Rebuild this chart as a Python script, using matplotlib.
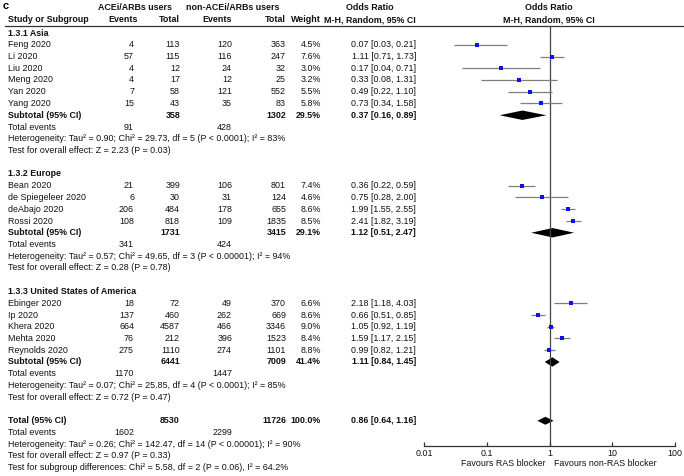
import matplotlib
matplotlib.use("Agg")
import matplotlib.pyplot as plt

plt.rcParams["font.family"] = ["Liberation Sans", "DejaVu Sans"]

# ---- data ----
groups = ["1.3.1 Asia", "1.3.2 Europe", "1.3.3 United States of America"]
group_size = [6, 4, 5]

studies = ["Feng 2020", "Li 2020", "Liu 2020", "Meng 2020", "Yan 2020", "Yang 2020",
           "Bean 2020", "de Spiegeleer 2020", "deAbajo 2020", "Rossi 2020",
           "Ebinger 2020", "Ip 2020", "Khera 2020", "Mehta 2020", "Reynolds 2020"]
ev_a = [4, 57, 4, 4, 7, 15, 21, 6, 206, 108, 18, 137, 664, 76, 275]
tot_a = [113, 115, 12, 17, 58, 43, 399, 30, 484, 818, 72, 460, 4587, 212, 1110]
ev_b = [120, 116, 24, 12, 121, 35, 106, 31, 178, 109, 49, 262, 466, 396, 274]
tot_b = [363, 247, 32, 25, 552, 83, 801, 124, 655, 1835, 370, 669, 3346, 1523, 1101]
weight = [4.5, 7.6, 3.0, 3.2, 5.5, 5.8, 7.4, 4.6, 8.6, 8.5, 6.6, 8.6, 9.0, 8.4, 8.8]
odds = [0.07, 1.11, 0.17, 0.33, 0.49, 0.73, 0.36, 0.75, 1.99, 2.41, 2.18, 0.66, 1.05, 1.59, 0.99]
ci_lo = [0.03, 0.71, 0.04, 0.08, 0.22, 0.34, 0.22, 0.28, 1.55, 1.82, 1.18, 0.51, 0.92, 1.17, 0.82]
ci_hi = [0.21, 1.73, 0.71, 1.31, 1.10, 1.58, 0.59, 2.00, 2.55, 3.19, 4.03, 0.85, 1.19, 2.15, 1.21]

sub_tot_a = [358, 1731, 6441]
sub_tot_b = [1302, 3415, 7009]
sub_ev_a = [91, 341, 1170]
sub_ev_b = [428, 424, 1447]
sub_weight = [29.5, 29.1, 41.4]
sub_or = [0.37, 1.12, 1.11]
sub_lo = [0.16, 0.51, 0.84]
sub_hi = [0.89, 2.47, 1.45]
sub_het = ["Heterogeneity: Tau\u00b2 = 0.90; Chi\u00b2 = 29.73, df = 5 (P < 0.0001); I\u00b2 = 83%",
           "Heterogeneity: Tau\u00b2 = 0.57; Chi\u00b2 = 49.65, df = 3 (P < 0.00001); I\u00b2 = 94%",
           "Heterogeneity: Tau\u00b2 = 0.07; Chi\u00b2 = 25.85, df = 4 (P < 0.0001); I\u00b2 = 85%"]
sub_test = ["Test for overall effect: Z = 2.23 (P = 0.03)",
            "Test for overall effect: Z = 0.28 (P = 0.78)",
            "Test for overall effect: Z = 0.72 (P = 0.47)"]

all_tot_a, all_tot_b = 8530, 11726
all_ev_a, all_ev_b = 1602, 2299
all_or, all_lo, all_hi = 0.86, 0.64, 1.16
all_notes = ["Heterogeneity: Tau\u00b2 = 0.26; Chi\u00b2 = 142.47, df = 14 (P < 0.00001); I\u00b2 = 90%",
             "Test for overall effect: Z = 0.97 (P = 0.33)",
             "Test for subgroup differences: Chi\u00b2 = 5.58, df = 2 (P = 0.06), I\u00b2 = 64.2%"]

# ---- layout (pixels) ----
W, H = 684, 476
Y0, DY = 33.0, 11.75
FS = 6.4
X_NAME, X_EVA, X_TOTA, X_EVB, X_TOTB, X_W, X_OR = 8, 134, 180, 232, 286, 321, 416
AX_L, AX_R, AX_TOP, AX_BOT = 424, 675, 26, 445.7

fig = plt.figure(figsize=(W / 100, H / 100), dpi=100)
tab = fig.add_axes([0, 0, 1, 1])
tab.set_xlim(0, W)
tab.set_ylim(H, 0)
tab.axis("off")

ax = fig.add_axes([AX_L / W, 1 - AX_BOT / H, (AX_R - AX_L) / W, (AX_BOT - AX_TOP) / H])
ax.patch.set_alpha(0)


def ypix(r):
    return Y0 + DY * r


def put(x, r, s, ha="right", bold=False):
    tab.text(x, ypix(r), s, ha=ha, va="center", fontsize=FS,
             fontweight="bold" if bold else "normal", color="#111111")


def ortxt(o, lo, hi):
    return f"{o:.2f} [{lo:.2f}, {hi:.2f}]"


def diamond(r, o, lo, hi, h):
    ax.fill([lo, o, hi, o], [r, r - h, r, r + h], color="black", lw=0)


# headers
tab.text(3, 6, "c", fontsize=8, fontweight="bold", va="center", ha="left")
hb = dict(fontsize=FS, fontweight="bold", va="center", color="#111111")
tab.text(134.5, 8, "ACEi/ARBs users", ha="center", **hb)
tab.text(233, 8, "non-ACEi/ARBs users", ha="center", **hb)
tab.text(370, 8, "Odds Ratio", ha="center", **hb)
tab.text(549, 8, "Odds Ratio", ha="center", **hb)
tab.text(X_NAME, 20, "Study or Subgroup", ha="left", **hb)
tab.text(138, 20, "Events", ha="right", **hb)
tab.text(X_TOTA, 20, "Total", ha="right", **hb)
tab.text(X_EVB, 20, "Events", ha="right", **hb)
tab.text(X_TOTB, 20, "Total", ha="right", **hb)
tab.text(X_W, 20, "Weight", ha="right", **hb)
tab.text(370, 20, "M-H, Random, 95% CI", ha="center", **hb)
tab.text(549, 20, "M-H, Random, 95% CI", ha="center", **hb)
tab.plot([5, W], [AX_TOP, AX_TOP], color="#333333", lw=0.9)

# rows
row = 0
i = 0
for g, n in enumerate(group_size):
    put(X_NAME, row, groups[g], ha="left", bold=True)
    row += 1
    for _ in range(n):
        put(X_NAME, row, studies[i], ha="left")
        put(X_EVA, row, str(ev_a[i]))
        put(X_TOTA, row, str(tot_a[i]))
        put(X_EVB, row, str(ev_b[i]))
        put(X_TOTB, row, str(tot_b[i]))
        put(X_W, row, f"{weight[i]:.1f}%")
        put(X_OR, row, ortxt(odds[i], ci_lo[i], ci_hi[i]))
        ax.plot([ci_lo[i], ci_hi[i]], [row, row], color="#7f7f7f", lw=0.9,
                solid_capstyle="butt", zorder=2)
        ax.plot(odds[i], row, marker="s", ms=2.0 + 0.08 * weight[i],
                color="#1010ee", mew=0, zorder=3)
        row += 1
        i += 1
    put(X_NAME, row, "Subtotal (95% CI)", ha="left", bold=True)
    put(X_TOTA, row, str(sub_tot_a[g]), bold=True)
    put(X_TOTB, row, str(sub_tot_b[g]), bold=True)
    put(X_W, row, f"{sub_weight[g]:.1f}%", bold=True)
    put(X_OR, row, ortxt(sub_or[g], sub_lo[g], sub_hi[g]), bold=True)
    diamond(row, sub_or[g], sub_lo[g], sub_hi[g], 0.4)
    row += 1
    put(X_NAME, row, "Total events", ha="left")
    put(X_EVA, row, str(sub_ev_a[g]))
    put(X_EVB, row, str(sub_ev_b[g]))
    row += 1
    put(X_NAME, row, sub_het[g], ha="left")
    row += 1
    put(X_NAME, row, sub_test[g], ha="left")
    row += 2

put(X_NAME, row, "Total (95% CI)", ha="left", bold=True)
put(X_TOTA, row, str(all_tot_a), bold=True)
put(X_TOTB, row, str(all_tot_b), bold=True)
put(X_W, row, "100.0%", bold=True)
put(X_OR, row, ortxt(all_or, all_lo, all_hi), bold=True)
diamond(row, all_or, all_lo, all_hi, 0.34)
row += 1
put(X_NAME, row, "Total events", ha="left")
put(X_EVA, row, str(all_ev_a))
put(X_EVB, row, str(all_ev_b))
row += 1
for note in all_notes:
    put(X_NAME, row, note, ha="left")
    row += 1

# forest axis
ax.set_xscale("log")
ax.set_xlim(0.01, 100)
ax.set_ylim((AX_BOT - Y0) / DY, (AX_TOP - Y0) / DY)
ax.axvline(1, color="#444444", lw=0.9, zorder=1)
for s in ["top", "left", "right"]:
    ax.spines[s].set_visible(False)
ax.spines["bottom"].set_color("#333333")
ax.spines["bottom"].set_linewidth(0.9)
ax.set_yticks([])
ax.set_xticks([0.01, 0.1, 1, 10, 100])
ax.set_xticklabels(["0.01", "0.1", "1", "10", "100"])
ax.minorticks_off()
ax.tick_params(axis="x", direction="in", length=3, width=0.9, labelsize=FS, pad=2.5,
               color="#333333", labelcolor="#111111")

tab.text(546, 464, "Favours RAS blocker", ha="right", va="center", fontsize=FS, color="#111111")
tab.text(554, 464, "Favours non-RAS blocker", ha="left", va="center", fontsize=FS, color="#111111")

fig.savefig("out.png", dpi=100)
